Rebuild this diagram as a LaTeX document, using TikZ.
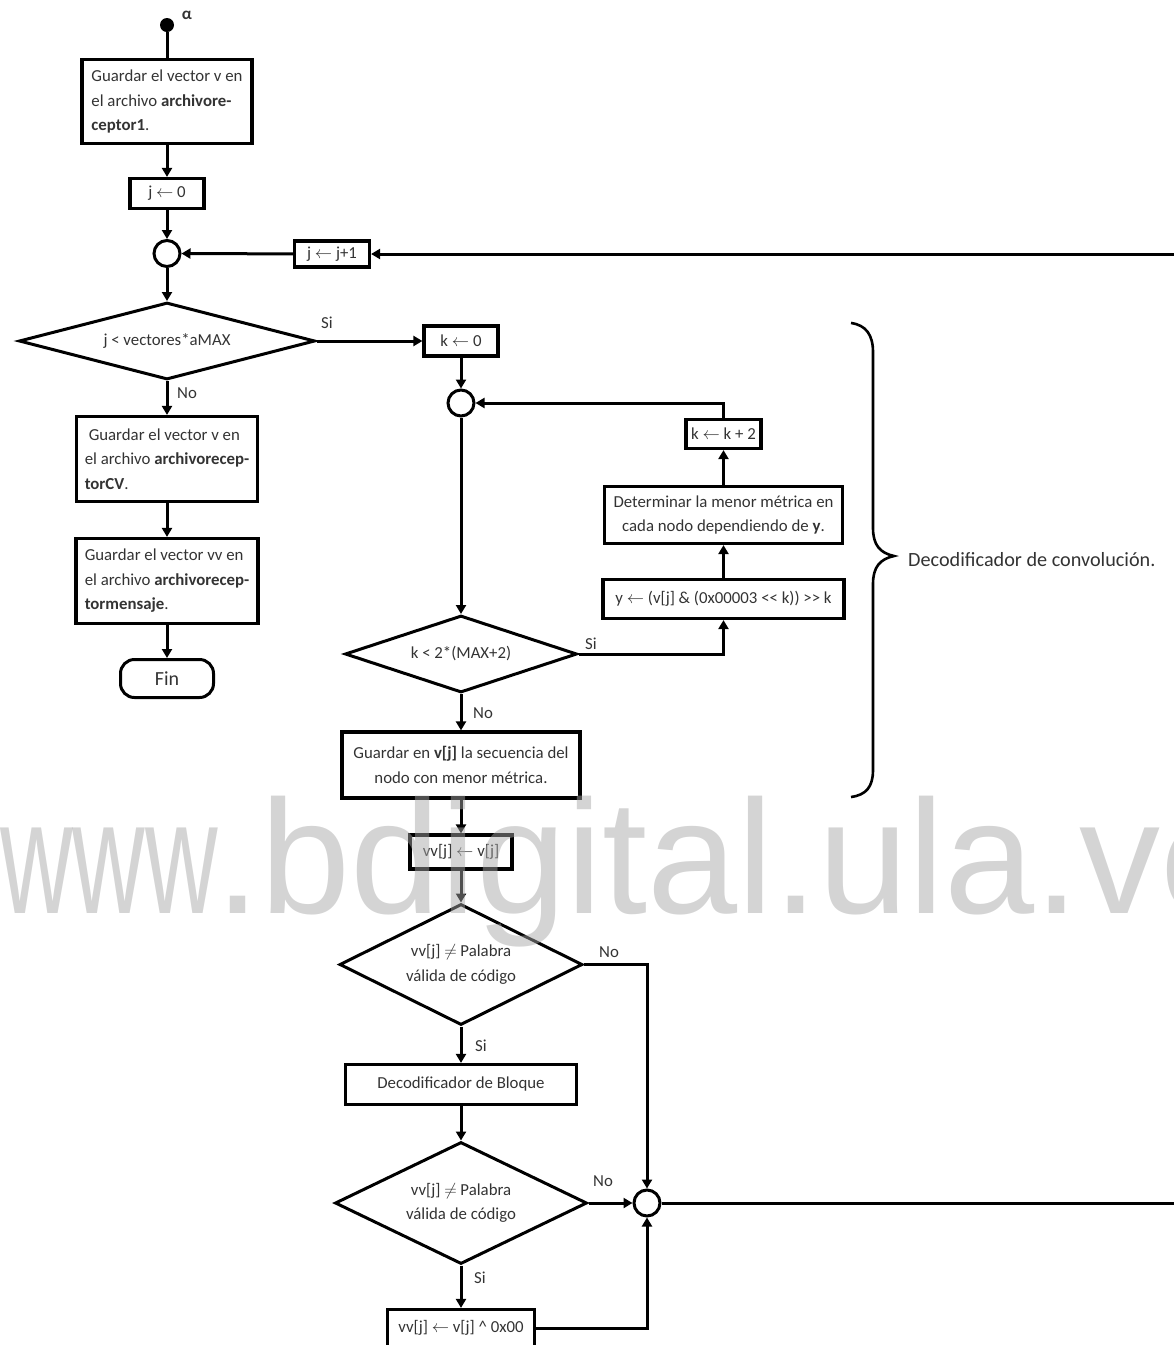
\documentclass[tikz,border=0pt]{standalone}
\usepackage{fontspec}
\setmainfont{Carlito}
\newfontfamily\wmfont{Liberation Sans}
\usetikzlibrary{arrows.meta,shapes.geometric}

\begin{document}
\begin{tikzpicture}[x=1pt,y=-1pt,
  every node/.style={font=\fontsize{16.8}{24.5}\selectfont, text=black!80},
  proc/.style={draw=black, line width=3.2pt, inner sep=0pt, align=center},
  cond/.style={draw=black, diamond, line width=3pt, inner sep=0pt, align=center},
  junc/.style={draw=black, circle, line width=3pt, minimum size=26pt, inner sep=0pt},
  term/.style={draw=black, line width=3pt, rounded corners=14pt, inner sep=0pt},
  flow/.style={line width=3pt, -{Triangle[length=9pt,width=10pt]}},
  link/.style={line width=3pt},
  lbl/.style={inner sep=0pt},
  wm/.style={inner sep=0pt, font=\wmfont\fontsize{162}{162}\selectfont,
    text={rgb,255:red,166;green,166;blue,166}, text opacity=0.48},
]
\useasboundingbox (0,0) rectangle (1174,1345);

% ---------- left column ----------
\node[circle, fill=black, minimum size=14pt, inner sep=0pt] (start) at (167,25) {};
\node[lbl, font=\bfseries\fontsize{17}{20}\selectfont] (alpha) at (187,15) {α};
\node[proc, align=left, minimum width=170pt, minimum height=84pt] (b1) at (167,101.5)
  {Guardar el vector v en\\el archivo \textbf{archivore-}\\\textbf{ceptor1}.};
\node[proc, minimum width=74pt, minimum height=30pt] (j0) at (167,193.5) {j $\leftarrow$ 0};
\node[junc] (c1) at (167,253.5) {};
\node[proc, minimum width=75pt, minimum height=26pt] (jj1) at (332,254) {j $\leftarrow$ j+1};
\coordinate (rin) at (1174,254);
\node[cond, aspect=3.84, minimum width=296pt, minimum height=77pt] (d1) at (167,341) {j < vectores*aMAX};
\node[proc, align=left, minimum width=181pt, minimum height=85pt] (b2) at (167,459)
  {\hspace{4pt}Guardar el vector v en\\el archivo \textbf{archivorecep-}\\\textbf{torCV}.};
\node[proc, align=left, minimum width=182pt, minimum height=85pt] (b3) at (167,581)
  {Guardar el vector vv en\\el archivo \textbf{archivorecep-}\\\textbf{tormensaje}.};
\node[term, minimum width=93pt, minimum height=38pt, font=\fontsize{20}{24}\selectfont] (fin) at (167,678.5) {Fin};

% ---------- convolution decoder loop ----------
\node[proc, minimum width=74pt, minimum height=30pt] (k0) at (461,341) {k $\leftarrow$ 0};
\node[junc] (c2) at (461,403) {};
\node[cond, aspect=3.0, minimum width=232pt, minimum height=77pt] (d2) at (461,654) {k < 2*(MAX+2)};
\node[proc, minimum width=241pt, minimum height=39pt] (ybox) at (723.5,599)
  {y $\leftarrow$ (v[j] \& (0x00003 <\kern0pt< k)) >\kern0pt> k};
\node[proc, minimum width=238pt, minimum height=57pt] (det) at (723.5,515)
  {Determinar la menor métrica en\\cada nodo dependiendo de \textbf{y}.};
\node[proc, minimum width=75pt, minimum height=29pt] (kk2) at (723.5,434) {k $\leftarrow$ k + 2};
\node[proc, minimum width=238pt, minimum height=66pt] (vj) at (461,765)
  {Guardar en \textbf{v[j]} la secuencia del\\nodo con menor métrica.};

% ---------- block decoder ----------
\node[proc, minimum width=102pt, minimum height=34pt] (vv) at (461,852) {vv[j] $\leftarrow$ v[j]};
\node[cond, aspect=2.0, minimum width=243pt, minimum height=121pt] (d3) at (461,964.5)
  {vv[j] $\neq$ Palabra\\válida de código};
\node[proc, minimum width=231pt, minimum height=40pt] (dec) at (461,1084.5) {Decodificador de Bloque};
\node[cond, aspect=2.07, minimum width=252pt, minimum height=122pt] (d4) at (461,1203)
  {vv[j] $\neq$ Palabra\\válida de código};
\node[junc] (c3) at (647,1203) {};
\coordinate (rout) at (1174,1203);
\node[proc, minimum width=147pt, minimum height=37pt] (vx) at (461,1328)
  {vv[j] $\leftarrow$ v[j] \textasciicircum{} 0x00};

% ---------- branch labels ----------
\node[lbl] (si1) at (327,323) {Si};
\node[lbl] (no1) at (187,393) {No};
\node[lbl] (si2) at (591,644) {Si};
\node[lbl] (no2) at (483,713) {No};
\node[lbl] (no3) at (609,952) {No};
\node[lbl] (si3) at (481,1046) {Si};
\node[lbl] (no4) at (603,1181) {No};
\node[lbl] (si4) at (480,1278) {Si};

% ---------- connectors ----------
\draw[link] (start) -- (b1);
\draw[flow] (b1) -- (j0);
\draw[flow] (j0) -- (c1);
\draw[flow] (rin) -- (jj1);
\draw[flow] (jj1) -- (c1);
\draw[flow] (c1) -- (d1);
\draw[flow] (d1.east) -- (k0.west);
\draw[flow] (d1) -- (b2);
\draw[flow] (b2) -- (b3);
\draw[flow] (b3) -- (fin);
\draw[flow] (k0) -- (c2);
\draw[flow] (c2) -- (d2);
\draw[flow] (d2.east) -| (ybox.south);
\draw[flow] (ybox) -- (det);
\draw[flow] (det) -- (kk2);
\draw[flow] (kk2.north) |- (c2.east);
\draw[flow] (d2) -- (vj);
\draw[flow] (vj) -- (vv);
\draw[flow] (vv) -- (d3);
\draw[flow] (d3.east) -| (c3.north);
\draw[flow] (d3) -- (dec);
\draw[flow] (dec) -- (d4);
\draw[flow] (d4.east) -- (c3.west);
\draw[flow] (d4) -- (vx);
\draw[flow] (vx.east) -| (c3.south);
\draw[link] (c3.east) -- (rout);

% ---------- brace and its caption ----------
\draw[line width=2.6pt] (851,323) .. controls (866,325) and (873,335) .. (873,352)
  -- (873,528) .. controls (873,545) and (880,553) .. (894,556)
  .. controls (880,559) and (873,567) .. (873,584)
  -- (873,770) .. controls (873,787) and (866,795) .. (851,797);
\node[lbl, anchor=west, font=\fontsize{20.2}{24}\selectfont] (conv) at (908,560)
  {Decodificador de convolución.};

% ---------- watermark ----------
\node[wm, anchor=base west, xscale=0.62] (wm1) at (0,913) {www};
\node[wm, anchor=base west] (wm2) at (215,913) {.bdigital.ula.ve};
\end{tikzpicture}
\end{document}
